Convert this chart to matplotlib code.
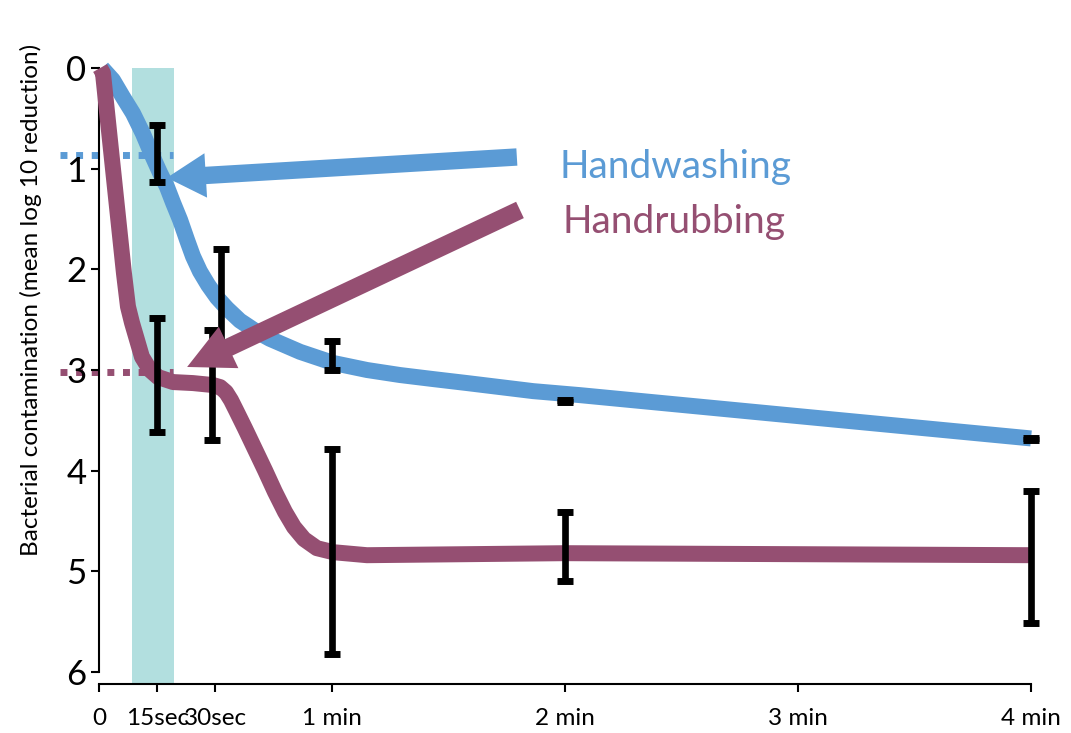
import matplotlib
matplotlib.use('Agg')
import matplotlib.pyplot as plt

BLUE = '#5b9bd5'
PURPLE = '#954f72'
BAND = '#b2dfdf'

# smoothed curves (seconds, mean log10 reduction)
wash_t = [0.8, 3.6, 6.2, 8.76, 11.3, 13.6, 15.7, 17.5, 19.1, 20.9, 22.7, 24.2,
          26.0, 28.1, 30.4, 33.0, 36.3, 40.2, 44.0, 51.8, 60.3, 69, 77.5, 86,
          94.8, 103.3, 111.8, 123.9, 180.5, 240]
wash_y = [0, 0.12, 0.29, 0.45, 0.65, 0.86, 1.04, 1.18, 1.34, 1.51, 1.71, 1.87,
          2.02, 2.155, 2.28, 2.39, 2.51, 2.61, 2.69, 2.82, 2.93, 3.0, 3.05, 3.09,
          3.13, 3.17, 3.21, 3.25, 3.46, 3.68]

rub_t = [0.3, 1.03, 2.83, 4.64, 6.44, 7.47, 8.5, 9.79, 11.07, 13.13, 15.19,
         19.1, 24.2, 29.4, 31.2, 32.7, 34.0, 35.3, 37.6, 40.2, 42.8, 45.3,
         47.9, 50.2, 52.8, 56.1, 60.3, 69.0, 120, 240]
rub_y = [0, 0.05, 0.715, 1.38, 2.04, 2.37, 2.53, 2.70, 2.87, 3.0, 3.07,
         3.12, 3.13, 3.15, 3.17, 3.22, 3.30, 3.40, 3.58, 3.79, 4.0, 4.21,
         4.41, 4.56, 4.68, 4.77, 4.81, 4.84, 4.82, 4.84]

# measured points with error bars
wash_pt_t = [15, 31.5, 60, 120, 240]
wash_pt_mean = [0.85, 2.3, 2.855, 3.31, 3.69]
wash_pt_err = [0.283, 0.5, 0.145, 0.01, 0.01]

rub_pt_t = [15, 29.2, 60, 120, 240]
rub_pt_mean = [3.05, 3.15, 4.80, 4.755, 4.855]
rub_pt_err = [0.565, 0.545, 1.02, 0.345, 0.655]

# reference levels reached at 15 sec
wash_15s = 0.86
rub_15s = 3.02

tick_pos = [0, 15, 30, 60, 120, 180, 240]
tick_labels = ['0', '15sec', '30sec', '1 min', '2 min', '3 min', '4 min']

plt.rcParams['font.family'] = ['Lato', 'DejaVu Sans']

fig = plt.figure(figsize=(10.71, 7.33), dpi=100)
ax = fig.add_axes([0.0924, 0.0668, 0.8703, 0.8404])

ax.axvspan(8.5, 19.3, color=BAND, lw=0, zorder=0)

ax.plot([-10, 19.1], [wash_15s, wash_15s], color=BLUE, lw=5,
        ls=(0, (1, 1.25)), clip_on=False, zorder=1)
ax.plot([-10, 19.1], [rub_15s, rub_15s], color=PURPLE, lw=5,
        ls=(0, (1, 1.25)), clip_on=False, zorder=1)

ax.plot(wash_t, wash_y, color=BLUE, lw=11.5, solid_capstyle='butt',
        solid_joinstyle='round', clip_on=False, zorder=2)
ax.plot(rub_t, rub_y, color=PURPLE, lw=11.5, solid_capstyle='butt',
        solid_joinstyle='round', clip_on=False, zorder=3)

for t, m, e in [(wash_pt_t, wash_pt_mean, wash_pt_err),
                (rub_pt_t, rub_pt_mean, rub_pt_err)]:
    ax.errorbar(t, m, yerr=e, fmt='none', ecolor='black', elinewidth=4.8,
                capsize=6, capthick=5, zorder=4, clip_on=False)

ax.annotate('', xy=(17.5, 1.09), xytext=(107.6, 0.884),
            arrowprops=dict(arrowstyle='simple,head_length=28,head_width=32,tail_width=12.5',
                            mutation_scale=1, fc=BLUE, ec=BLUE, lw=0,
                            shrinkA=0, shrinkB=0), zorder=5)
ax.annotate('', xy=(22.7, 2.97), xytext=(108.4, 1.41),
            arrowprops=dict(arrowstyle='simple,head_length=33,head_width=33,tail_width=13',
                            mutation_scale=1, fc=PURPLE, ec=PURPLE, lw=0,
                            shrinkA=0, shrinkB=0), zorder=5)

ax.text(0.4946, 0.821, 'Handwashing', color=BLUE, fontsize=28,
        transform=ax.transAxes, va='baseline')
ax.text(0.4968, 0.732, 'Handrubbing', color=PURPLE, fontsize=28,
        transform=ax.transAxes, va='baseline')

ax.set_xlim(0, 240)
ax.set_ylim(6.12, 0)
ax.set_xticks(tick_pos)
ax.set_xticklabels(tick_labels, fontsize=17.5)
ax.set_yticks(range(7))
ax.tick_params(axis='y', labelsize=25, length=6, width=1.5, pad=3)
ax.tick_params(axis='x', length=6, width=1.5, pad=11)

for s in ['top', 'right']:
    ax.spines[s].set_visible(False)
ax.spines['left'].set_bounds(0, 6)
ax.spines['left'].set_linewidth(1.5)
ax.spines['bottom'].set_linewidth(1.5)

ax.set_ylabel('Bacterial contamination (mean log 10 reduction)', fontsize=17.5)
ax.yaxis.set_label_coords(-0.061, 0.623)

fig.savefig('out.png', dpi=100)
